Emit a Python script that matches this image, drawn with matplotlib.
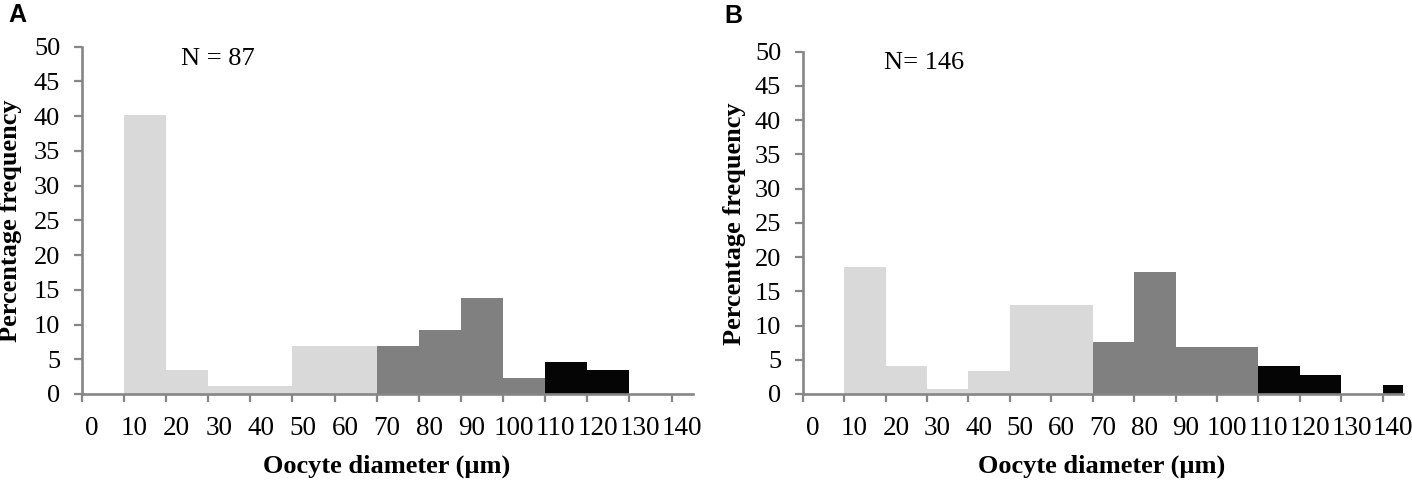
import matplotlib.pyplot as plt

# oocyte diameter classes (um) and percentage frequency per class
classes = ['0', '10', '20', '30', '40', '50', '60', '70', '80', '90', '100', '110', '120', '130', '140']
freq_a = [0, 40.2, 3.45, 1.15, 1.15, 6.9, 6.9, 6.9, 9.2, 13.8, 2.3, 4.6, 3.45, 0, 0]
freq_b = [0, 18.5, 4.1, 0.68, 3.42, 13.0, 13.0, 7.53, 17.8, 6.85, 6.85, 4.1, 2.74, 0, 1.37]
n_a = 'N = 87'
n_b = 'N= 146'

# stage shading: light = previtellogenic, grey = vitellogenic, black = mature
stage_colors = ['#d9d9d9'] * 7 + ['#808080'] * 4 + ['#050505'] * 4

serif = 'Liberation Serif'
axis_gray = '#868686'

fig = plt.figure(figsize=(14.12, 4.8), dpi=100)


def panel(rect, values, ntext, ntext_xy):
    ax = fig.add_axes(rect)
    pos = list(range(len(classes)))
    ax.bar(pos, values, width=1.0, align='edge', color=stage_colors, linewidth=0)
    ax.set_xlim(0, 14.5)
    ax.set_ylim(0, 50)
    for s in ['top', 'right']:
        ax.spines[s].set_visible(False)
    for s in ['left', 'bottom']:
        ax.spines[s].set_color(axis_gray)
        ax.spines[s].set_linewidth(1.9)
    ax.set_yticks(range(0, 51, 5))
    ax.set_yticklabels([str(v) for v in range(0, 51, 5)], fontfamily=serif, fontsize=19)
    ax.set_xticks(pos)
    ax.set_xticklabels([''] * len(pos))
    ax.set_xticks([p + 0.25 for p in pos], minor=True)
    ax.set_xticklabels(classes, minor=True, fontfamily=serif, fontsize=19.5)
    ax.tick_params(axis='y', direction='out', length=5.5, width=1.6, color=axis_gray, pad=10)
    ax.tick_params(axis='x', which='major', direction='out', length=5.5, width=1.6, color=axis_gray)
    ax.tick_params(axis='x', which='minor', length=0, pad=16)
    ax.text(ntext_xy[0], ntext_xy[1], ntext, fontfamily=serif, fontsize=19,
            ha='center', va='center')
    return ax


ax_a = panel([0.05786, 0.17917, 0.4327, 0.7235], freq_a, n_a, (3.23, 48.2))
ax_b = panel([0.5685, 0.17917, 0.42535, 0.7131], freq_b, n_b, (2.94, 48.4))

# y labels
fig.text(11 / 1412, 1 - 221 / 480, 'Percentage frequency', rotation=90, fontfamily=serif,
         fontsize=19, fontweight='bold', ha='center', va='center')
fig.text(735 / 1412, 1 - 224 / 480, 'Percentage frequency', rotation=90, fontfamily=serif,
         fontsize=19, fontweight='bold', ha='center', va='center')

# x labels
fig.text(387 / 1412, 1 - 472.5 / 480, 'Oocyte diameter (µm)', fontfamily=serif,
         fontsize=19, fontweight='bold', ha='center', va='baseline')
fig.text(1102 / 1412, 1 - 472.5 / 480, 'Oocyte diameter (µm)', fontfamily=serif,
         fontsize=19, fontweight='bold', ha='center', va='baseline')

# panel letters
fig.text(17 / 1412, 1 - 15.5 / 480, 'A', fontfamily='Liberation Sans', fontsize=18,
         fontweight='bold', ha='center', va='center')
fig.text(733 / 1412, 1 - 16 / 480, 'B', fontfamily='Liberation Sans', fontsize=18,
         fontweight='bold', ha='center', va='center')

fig.savefig('out.png', dpi=100)
